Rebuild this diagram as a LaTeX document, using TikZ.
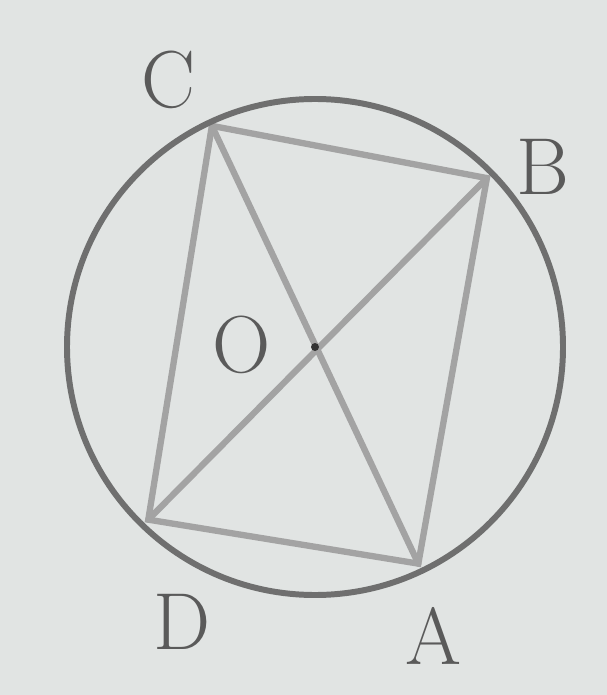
\documentclass[tikz,border=0pt]{standalone}
\usepackage{xcolor}
\definecolor{bg}{HTML}{E1E4E3}
\definecolor{circ}{HTML}{6F6F6F}
\definecolor{chord}{HTML}{A3A3A3}
\definecolor{lab}{HTML}{5A5A5A}
\begin{document}
\begin{tikzpicture}[x=0.02cm,y=-0.02cm,
  chordline/.style={draw=chord,line width=3.6pt,line cap=round},
  lbl/.style={text=lab,font=\fontsize{46}{46}\selectfont,inner sep=0pt}]
\fill[bg] (0,0) rectangle (607,695);
\useasboundingbox (0,0) rectangle (607,695);
\coordinate (O) at (315,347);
\begin{scope}[shift={(315,347)}]
  \coordinate (C) at (-115:244);
  \coordinate (B) at (-44.5:241);
  \coordinate (A) at (64.5:240);
  \coordinate (D) at (134:240);
\end{scope}
% chords
\draw[chordline] (C) -- (B) -- (A) -- (D) -- cycle;
\draw[chordline] (C) -- (A);
\draw[chordline] (D) -- (B);
% circle
\draw[circ,line width=3.4pt] (O) circle[radius=248];
% centre dot
\fill[black!80] (O) circle[radius=4];
% labels
\node[lbl] (lC) at (168,80) {C};
\node[lbl] (lB) at (543,167) {B};
\node[lbl] (lO) at (242,345) {O};
\node[lbl] (lD) at (182,622) {D};
\node[lbl] (lA) at (433,636) {A};
\end{tikzpicture}
\end{document}
